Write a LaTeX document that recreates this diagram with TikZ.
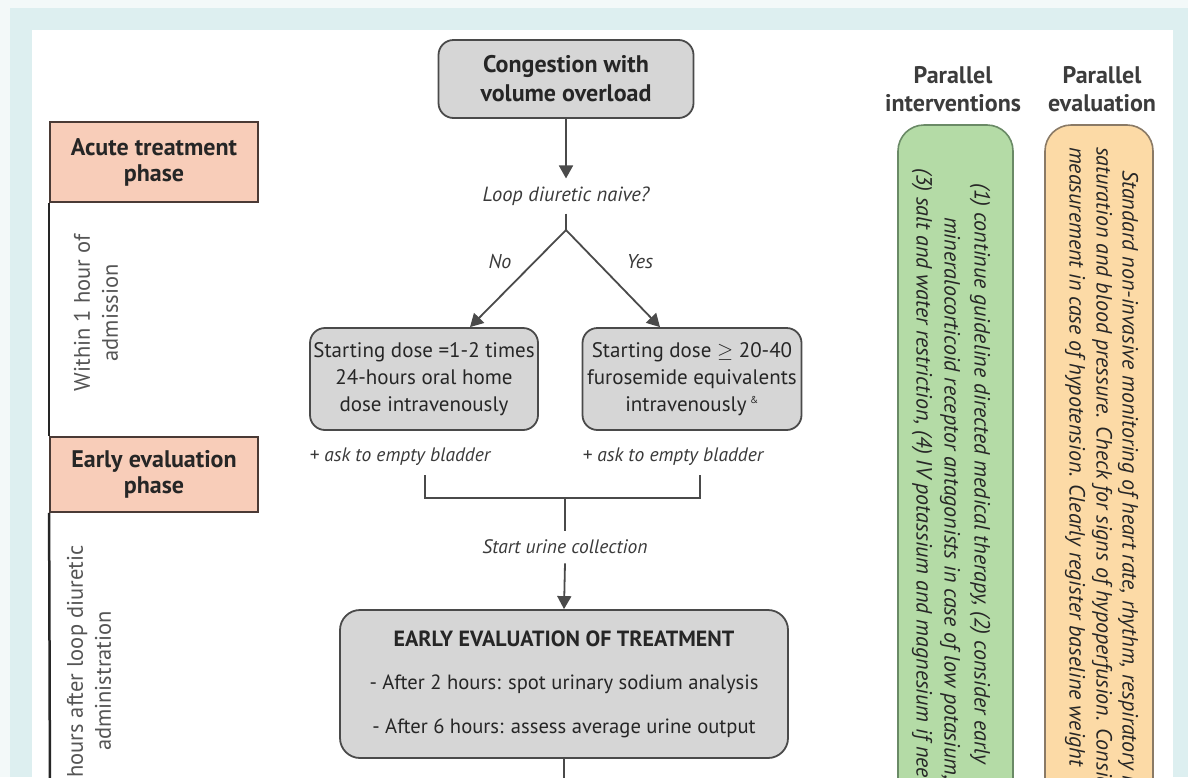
\documentclass[tikz,border=0pt]{standalone}
\usepackage{fontspec}
\setmainfont{PT Sans}
\usetikzlibrary{arrows.meta,calc}
\definecolor{outerc}{HTML}{F3F9F9}
\definecolor{bandc}{HTML}{DDEFF0}
\definecolor{boxgray}{HTML}{D6D6D6}
\definecolor{boxline}{HTML}{4A4A4A}
\definecolor{phasec}{HTML}{F8CDB9}
\definecolor{phaseline}{HTML}{4A3A35}
\definecolor{greenc}{HTML}{B4DBA6}
\definecolor{greenline}{HTML}{6A8A66}
\definecolor{orangec}{HTML}{FCDAA6}
\definecolor{orangeline}{HTML}{8A7A66}
\definecolor{txt}{HTML}{262626}
\definecolor{itxt}{HTML}{3A3A3A}
\definecolor{gtxt}{HTML}{555555}
\newcommand\fsz[2]{\fontsize{#1}{#2}\selectfont}
\begin{document}
\begin{tikzpicture}[x=1pt,y=-1pt,
  graybox/.style={draw=boxline, fill=boxgray, line width=1.8pt, rounded corners=15pt, align=center, inner sep=0pt, text=txt},
  phasebox/.style={draw=phaseline, fill=phasec, line width=1.8pt, align=center, inner sep=0pt, minimum width=208pt, text=txt, font=\bfseries\fsz{24}{26}},
  lbl/.style={font=\itshape\fsz{19.5}{22}, text=itxt, inner sep=0pt},
  arr/.style={draw=boxline, line width=1.8pt, -{Triangle[width=14pt,length=13pt]}},
  ln/.style={draw=boxline, line width=1.8pt},
  tl/.style={draw=black!85, line width=2.5pt},
  rotl/.style={rotate=90, align=center, font=\fsz{22.5}{28}, text=gtxt, inner sep=0pt},
  hdr/.style={align=center, font=\bfseries\fsz{24}{28}, text=txt!90, inner sep=0pt},
  vtxt/.style={rotate=-90, anchor=west, font=\itshape\fsz{22}{24}, text=txt, inner sep=0pt}]
\useasboundingbox (0,0) rectangle (1188,777);
\clip (0,0) rectangle (1188,777);
% frame
\fill[outerc] (0,0) rectangle (1188,777);
\fill[bandc] (10,8) rectangle (1188,777);
\fill[white] (32,30) rectangle (1173,777);

% main flow
\node[graybox, minimum width=255pt, minimum height=78pt, font=\bfseries\fsz{24}{29}] (top) at (566,79) {Congestion with\\volume overload};
\node[lbl, font=\itshape\fsz{20.5}{22}, inner ysep=8pt] (q) at (566,196) {Loop diuretic naive?};
\draw[arr] (top.south) -- (q.north);
\coordinate (br) at (566,230);
\draw[ln] (q.south) -- (br);
\coordinate (lx) at (470,0);
\coordinate (rx) at (660,0);

\node[graybox, minimum width=228pt, minimum height=102pt, font=\fsz{21}{27}] (ld) at (424,379) {Starting dose =1-2 times\\24-hours oral home\\dose intravenously};
\node[graybox, minimum width=219pt, minimum height=102pt, font=\fsz{21}{27}] (rd) at (692,379) {Starting dose $\geq$ 20-40\\furosemide equivalents\\intravenously\,\textsuperscript{\fsz{10}{10}\&}};
\draw[arr] (br) -- (lx |- ld.north);
\draw[arr] (br) -- (rx |- rd.north);
\node[lbl, font=\itshape\fsz{20}{22}] (no) at (500,262) {No};
\node[lbl, font=\itshape\fsz{20}{22}] (yes) at (640,262) {Yes};

\node[lbl] (lb) at (400,457) {+ ask to empty bladder};
\node[lbl] (rb) at (673,457) {+ ask to empty bladder};
\coordinate (jl) at (425,475);
\coordinate (jr) at (700,475);
\coordinate (jm) at (565,498);
\draw[ln] (jl) |- (jm) -| (jr);
\node[lbl, inner ysep=9pt] (su) at (565,547) {Start urine collection};
\draw[ln] (jm) -- (su.north);

\node[graybox, minimum width=448pt, minimum height=148pt, rounded corners=20pt, font=\fsz{20.6}{43.5}] (ev) at (564,684) {{\bfseries\fsz{22}{22}EARLY EVALUATION OF TREATMENT}\\- After 2 hours: spot urinary sodium analysis\\- After 6 hours: assess average urine output};
\draw[arr] (su.south) -- (ev.north);
\coordinate (evend) at (564,800);
\draw[ln] (ev.south) -- (evend);

% timeline
\node[phasebox, minimum height=80pt] (ph1) at (154,162) {Acute treatment\\phase};
\node[phasebox, minimum height=75pt] (ph2) at (154,474.5) {Early evaluation\\phase};
\coordinate (tlend) at (50,800);
\draw[tl] (ph1.south west) -- (ph2.north west);
\draw[tl] (ph2.south west) -- (tlend);
\node[rotl] (w1) at (96,313) {Within 1 hour of\\admission};
\node[rotl] (w2) at (89,681) {2-6 hours after loop diuretic\\administration};

% parallel columns
\node[hdr] (h1) at (953,89) {Parallel\\interventions};
\node[hdr] (h2) at (1102,89) {Parallel\\evaluation};
\path[draw=greenline, fill=greenc, line width=1.6pt, rounded corners=26pt] (898,125) rectangle (1013,840);
\path[draw=orangeline, fill=orangec, line width=1.6pt, rounded corners=26pt] (1045,125) rectangle (1153,840);
\node[vtxt] (g1) at (980,183) {(1) continue guideline directed medical therapy, (2) consider early};
\node[vtxt] (g2) at (950,217) {mineralocorticoid receptor antagonists in case of low potasium,};
\node[vtxt] (g3) at (922,168) {(3) salt and water restriction, (4) IV potassium and magnesium if needed};
\node[vtxt] (o1) at (1128,170) {Standard non-invasive monitoring of heart rate, rhythm, respiratory rate, oxygen};
\node[vtxt] (o2) at (1102,147) {saturation and blood pressure. Check for signs of hypoperfusion. Consider};
\node[vtxt] (o3) at (1075,147) {measurement in case of hypotension. Clearly register baseline weight};
\end{tikzpicture}
\end{document}
